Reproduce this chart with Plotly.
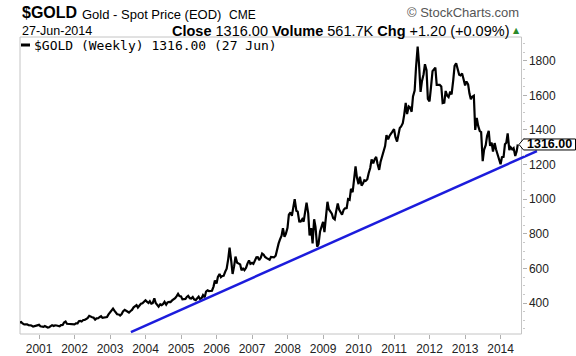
import pandas as pd
import plotly.graph_objects as go

# ---------------- data ----------------
# semi-monthly closes of $GOLD, Jun-2000 .. 27-Jun-2014
gold_close = [
    # 2000 (from mid-June)
    288, 290, 282, 276, 277, 277, 272, 273, 270, 264, 267, 270, 272, 274,
    # 2001
    266, 265, 262, 267, 264, 258, 260, 264, 272, 267, 271, 270,
    267, 266, 272, 273, 287, 293, 280, 279, 276, 275, 274, 277,
    # 2002
    282, 282, 295, 297, 293, 302, 302, 308, 313, 326, 320, 318,
    316, 304, 311, 312, 318, 324, 314, 317, 320, 319, 333, 347,
    # 2003
    356, 368, 356, 347, 335, 334, 328, 336, 352, 361, 356, 346,
    345, 354, 360, 375, 379, 388, 374, 386, 396, 398, 406, 416,
    # 2004
    408, 400, 410, 396, 399, 427, 400, 388, 379, 393, 388, 395,
    407, 391, 403, 407, 406, 415, 420, 428, 439, 453, 440, 438,
    # 2005
    421, 422, 424, 435, 441, 428, 426, 435, 421, 417, 426, 437,
    423, 429, 446, 433, 466, 473, 469, 470, 471, 495, 530, 513,
    # 2006
    551, 568, 549, 556, 557, 582, 598, 654, 720, 643, 568, 613,
    668, 633, 630, 623, 590, 599, 590, 604, 628, 646, 626, 632,
    # 2007
    626, 650, 664, 665, 648, 662, 686, 679, 666, 659, 655, 650,
    666, 665, 664, 673, 711, 743, 766, 789, 833, 783, 800, 834,
    # 2008
    910, 923, 904, 971, 1000, 933, 928, 871, 870, 885, 870, 930,
    980, 918, 790, 833, 745, 884, 840, 725, 740, 814, 840, 869,
    # 2009
    810, 919, 985, 942, 930, 916, 890, 883, 928, 975, 940, 926,
    910, 939, 947, 949, 1000, 996, 1060, 1040, 1117, 1190, 1125, 1087,
    # 2010
    1130, 1078, 1090, 1109, 1105, 1115, 1150, 1180, 1230, 1207, 1230, 1244,
    1205, 1169, 1215, 1246, 1268, 1307, 1370, 1346, 1365, 1383, 1390, 1405,
    # 2011
    1360, 1333, 1375, 1411, 1420, 1439, 1486, 1556, 1492, 1536, 1530, 1505,
    1594, 1628, 1760, 1882, 1780, 1620, 1682, 1722, 1780, 1746, 1580, 1565,
    # 2012
    1640, 1740, 1750, 1760, 1660, 1662, 1660, 1651, 1555, 1558, 1625, 1598,
    1590, 1622, 1605, 1688, 1770, 1785, 1750, 1719, 1715, 1726, 1696, 1657,
    # 2013
    1680, 1664, 1610, 1578, 1592, 1598, 1400, 1469, 1425, 1393, 1388, 1220,
    1285, 1312, 1365, 1395, 1308, 1327, 1275, 1324, 1288, 1253, 1235, 1202,
    # 2014 (to 27-Jun)
    1242, 1244, 1318, 1326, 1380, 1284, 1300, 1288, 1295, 1250, 1275, 1316,
]
last_date = "2014-06-27"
gold_dates = list(pd.date_range("2000-06-15", periods=len(gold_close) - 1, freq="SMS")) + [pd.Timestamp(last_date)]

# hand-drawn trend line (two end points)
trend_dates = ["2003-08-04", "2015-01-10"]
trend_values = [232, 1278]

year_labels = [str(y) for y in range(2001, 2015)]
year_ticks = [f"{y}-01-01" for y in range(2001, 2015)]

last_close = 1316.00

# ---------------- layout helpers ----------------
W, H = 576, 356
L, R, T, B = 20, 545, 37, 334
AXIS_X = 521.5


def fx(p):
    return (p - L) / (R - L)


def fy(p):
    return (B - p) / (B - T)


FONT = "Liberation Sans, Arial, Helvetica, sans-serif"

fig = go.Figure()
fig.add_trace(go.Scatter(x=gold_dates, y=gold_close, mode="lines",
                         line=dict(color="#000000", width=2.2), hoverinfo="skip"))
fig.add_trace(go.Scatter(x=trend_dates, y=trend_values, mode="lines",
                         line=dict(color="#1c1cdc", width=2.5), hoverinfo="skip"))

annotations = [
    dict(text="<b>$GOLD</b>", x=fx(20), y=fy(13), xanchor="left", yanchor="middle",
         font=dict(size=16, family=FONT, color="#000")),
    dict(text="Gold - Spot Price (EOD)", x=fx(80), y=fy(14), xanchor="left", yanchor="middle",
         font=dict(size=13, family=FONT, color="#000")),
    dict(text="CME", x=fx(227), y=fy(14.5), xanchor="left", yanchor="middle",
         font=dict(size=12, family=FONT, color="#000")),
    dict(text="© StockCharts.com", x=fx(521), y=fy(13), xanchor="right", yanchor="middle",
         font=dict(size=13, family=FONT, color="#555")),
    dict(text="27-Jun-2014", x=fx(20), y=fy(31), xanchor="left", yanchor="middle",
         font=dict(size=12.5, family=FONT, color="#000")),
    dict(text="<b>Close</b> 1316.00 <b>Volume</b> 561.7K <b>Chg</b> +1.20 (+0.09%)",
         x=fx(511), y=fy(31), xanchor="right", yanchor="middle",
         font=dict(size=14.5, family=FONT, color="#000")),
    dict(text="▲", x=fx(516.5), y=fy(30), xanchor="center", yanchor="middle",
         font=dict(size=8, family="DejaVu Sans", color="#2b8a2b")),
    dict(text="$GOLD (Weekly) 1316.00 (27 Jun)", x=fx(32), y=fy(45), xanchor="left", yanchor="middle",
         font=dict(size=13, family="DejaVu Sans Mono", color="#000")),
    dict(text="<b>%.2f</b>" % last_close, x=fx(549.5), y=last_close, xref="paper", yref="y",
         xanchor="center", yanchor="middle", font=dict(size=12.5, family=FONT, color="#000")),
]
for a in annotations:
    a.setdefault("xref", "paper")
    a.setdefault("yref", "paper")
    a["showarrow"] = False

shapes = [
    # chart frame
    dict(type="rect", xref="paper", yref="paper", x0=0, x1=fx(AXIS_X), y0=0, y1=1,
         line=dict(color="#c4c4c4", width=1), layer="below"),
    # legend line sample
    dict(type="line", xref="paper", yref="paper", x0=fx(21), x1=fx(30), y0=fy(45), y1=fy(45),
         line=dict(color="#000", width=3)),
    # last-value tag
    dict(type="path", xref="paper", yref="y", xsizemode="pixel", ysizemode="pixel",
         xanchor=fx(AXIS_X), yanchor=last_close,
         path="M -2.5 0 L 2 -5.5 L 54 -5.5 L 54 5.5 L 2 5.5 Z",
         line=dict(color="#000", width=1), fillcolor="#fff", layer="above"),
]

fig.update_layout(
    width=W, height=H,
    margin=dict(l=L, r=W - R, t=T, b=H - B, pad=0),
    paper_bgcolor="#fff", plot_bgcolor="#fff",
    showlegend=False,
    font=dict(family=FONT, size=12, color="#333"),
    annotations=annotations,
    shapes=shapes,
    xaxis=dict(type="date", range=["2000-06-19", "2015-04-03"],
               tickvals=year_ticks, ticktext=year_labels,
               ticks="outside", ticklen=4, tickcolor="#b0b0b0",
               tickfont=dict(size=12, family=FONT, color="#222"),
               showgrid=False, zeroline=False, showline=False, automargin=False,
               fixedrange=True),
    yaxis=dict(range=[221, 1937], side="right", anchor="free", position=fx(AXIS_X),
               tick0=0, dtick=200, ticks="outside", ticklen=4, tickcolor="#b0b0b0",
               tickfont=dict(size=12, family=FONT, color="#222"),
               minor=dict(dtick=50, ticks="outside", ticklen=2, tickcolor="#c8c8c8", showgrid=False),
               showgrid=False, zeroline=False, showline=False, automargin=False,
               fixedrange=True),
)

fig.write_html("out.html",
               config={"displayModeBar": False, "staticPlot": True},
               post_script="document.body.style.margin='0';document.body.style.overflow='hidden';")
